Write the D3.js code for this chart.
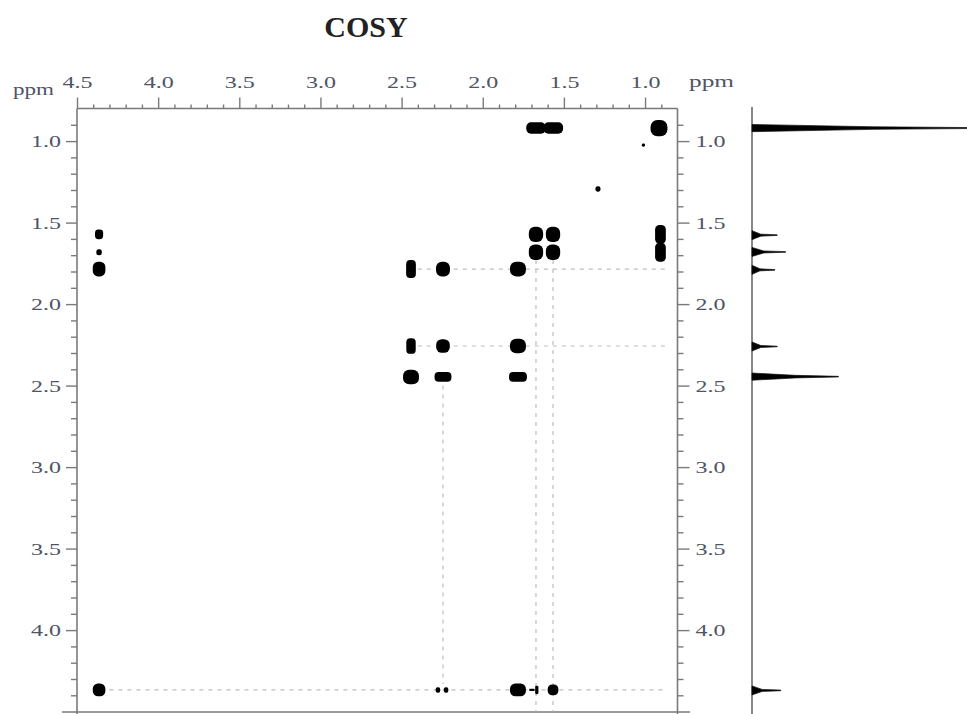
<!DOCTYPE html>
<html>
<head>
<meta charset="utf-8">
<script src="https://cdn.jsdelivr.net/npm/d3@7/dist/d3.min.js"></script>
<style>
  html, body { margin: 0; padding: 0; background: #fff; }
  svg { display: block; }
  text { font-family: "Liberation Serif", "Times New Roman", serif; }
</style>
</head>
<body>
<svg id="chart" width="967" height="714"></svg>
<script>
// ---------- data ----------
const title = "COSY";
const unitLabel = "ppm";
const f2TickLabels = [4.5, 4.0, 3.5, 3.0, 2.5, 2.0, 1.5, 1.0];
const f1TickLabels = [1.0, 1.5, 2.0, 2.5, 3.0, 3.5, 4.0];

// cross peaks (F2 = horizontal ppm, F1 = vertical ppm, extents in ppm)
const crossF2 = [1.672, 1.565, 0.914, 1.290, 1.010,
                 4.364, 1.672, 1.567, 0.905,
                 4.364, 1.672, 1.567, 0.905,
                 4.364, 2.442, 2.245, 1.783,
                 2.442, 2.245, 1.783,
                 2.442, 2.245, 1.783,
                 4.364, 2.276, 2.226, 1.783, 1.697, 1.667, 1.567];
const crossF1 = [0.920, 0.920, 0.920, 1.294, 1.024,
                 1.572, 1.572, 1.572, 1.572,
                 1.682, 1.682, 1.682, 1.682,
                 1.785, 1.785, 1.785, 1.785,
                 2.257, 2.257, 2.257,
                 2.447, 2.447, 2.447,
                 4.367, 4.367, 4.367, 4.367, 4.367, 4.367, 4.367];
const crossW2 = [0.120, 0.120, 0.104, 0.031, 0.020,
                 0.050, 0.088, 0.088, 0.066,
                 0.034, 0.088, 0.088, 0.066,
                 0.078, 0.060, 0.086, 0.098,
                 0.058, 0.084, 0.098,
                 0.098, 0.104, 0.110,
                 0.078, 0.028, 0.028, 0.098, 0.034, 0.020, 0.066];
const crossW1 = [0.070, 0.070, 0.100, 0.033, 0.020,
                 0.060, 0.094, 0.094, 0.116,
                 0.036, 0.094, 0.094, 0.116,
                 0.090, 0.110, 0.090, 0.090,
                 0.096, 0.084, 0.090,
                 0.090, 0.060, 0.060,
                 0.078, 0.034, 0.034, 0.078, 0.014, 0.052, 0.066];

// dashed correlation guide lines
const hGuideF1 = [1.785, 2.257, 4.367];
const hGuideFrom = [2.40, 2.40, 4.30];
const hGuideTo = [0.87, 0.87, 0.87];
const vGuideF2 = [2.245, 1.672, 1.567];
const vGuideFrom = [2.50, 1.73, 1.73];
const vGuideTo = [4.33, 4.50, 4.50];

// 1D projection spectrum peaks
const specPpm = [0.920, 1.577, 1.680, 1.790, 2.260, 2.445, 4.370];
const specInt = [100, 10.5, 14, 9.5, 10.5, 36, 12];

// ---------- layout ----------
const svg = d3.select("#chart");
const X0 = 77, X1 = 677.5, Y0 = 108.5, Y1 = 711.6;
const x = d3.scaleLinear().domain([4.5, 0.8]).range([X0, X1]);
const y = d3.scaleLinear().domain([0.8, 4.5]).range([Y0, Y1]);
const specBase = 752;
const sx = d3.scaleLinear().domain([0, 100]).range([specBase, specBase + 240]);

const axisColor = "#7a7a7a";
const labelColor = "#4f5566";

// title
svg.append("text").attr("x", 366).attr("y", 37).attr("text-anchor", "middle")
  .attr("font-size", 30).attr("font-weight", "bold").attr("fill", "#222").text(title);

// unit labels (glyphs are horizontally stretched in the original)
svg.append("text").attr("x", 13).attr("y", 95).attr("font-size", 17)
  .attr("textLength", 41).attr("lengthAdjust", "spacingAndGlyphs")
  .attr("fill", labelColor).text(unitLabel);
svg.append("text").attr("x", 689).attr("y", 87).attr("font-size", 17)
  .attr("textLength", 45).attr("lengthAdjust", "spacingAndGlyphs")
  .attr("fill", labelColor).text(unitLabel);

const fmt = d3.format(".1f");
const minorF2 = d3.range(9, 45).map(v => v / 10).filter(v => !f2TickLabels.some(t => Math.abs(t - v) < 1e-6));
const minorF1 = d3.range(9, 45).map(v => v / 10).filter(v => !f1TickLabels.some(t => Math.abs(t - v) < 1e-6));

function styleAxis(g) {
  g.select(".domain").remove();
  g.selectAll(".tick line").attr("stroke", axisColor).attr("stroke-width", 1.4);
  g.selectAll(".tick text").attr("fill", labelColor).attr("font-size", 17)
    .attr("font-family", "Liberation Serif, serif")
    .attr("textLength", 30).attr("lengthAdjust", "spacingAndGlyphs");
}

// top axis
svg.append("g").attr("transform", `translate(0,${Y0})`)
  .call(d3.axisTop(x).tickValues(minorF2).tickSize(4).tickFormat("")).call(styleAxis);
svg.append("g").attr("transform", `translate(0,${Y0})`)
  .call(d3.axisTop(x).tickValues(f2TickLabels).tickSize(11).tickPadding(10).tickFormat(fmt)).call(styleAxis);

// left axis
svg.append("g").attr("transform", `translate(${X0},0)`)
  .call(d3.axisLeft(y).tickValues(minorF1).tickSize(6).tickFormat("")).call(styleAxis);
svg.append("g").attr("transform", `translate(${X0},0)`)
  .call(d3.axisLeft(y).tickValues(f1TickLabels).tickSize(11).tickPadding(5).tickFormat(fmt)).call(styleAxis);

// right axis
svg.append("g").attr("transform", `translate(${X1},0)`)
  .call(d3.axisRight(y).tickValues(minorF1).tickSize(6).tickFormat("")).call(styleAxis);
svg.append("g").attr("transform", `translate(${X1},0)`)
  .call(d3.axisRight(y).tickValues(f1TickLabels).tickSize(12).tickPadding(6).tickFormat(fmt)).call(styleAxis);

// frame lines
const frame = svg.append("g").attr("stroke", axisColor).attr("stroke-width", 1.6).attr("fill", "none");
frame.append("line").attr("x1", X0).attr("x2", X1).attr("y1", Y0).attr("y2", Y0);
frame.append("line").attr("x1", X0).attr("x2", X0).attr("y1", Y0).attr("y2", 714);
frame.append("line").attr("x1", X1).attr("x2", X1).attr("y1", Y0).attr("y2", 714);
frame.append("line").attr("x1", 62).attr("x2", 690).attr("y1", 712).attr("y2", 712);

// guide lines
const guides = svg.append("g").attr("stroke", "#bdbdbd").attr("stroke-width", 1.2)
  .attr("stroke-dasharray", "4,5");
guides.selectAll("line.h").data(hGuideF1).join("line").attr("class", "h")
  .attr("x1", (d, i) => x(hGuideFrom[i])).attr("x2", (d, i) => x(hGuideTo[i]))
  .attr("y1", d => y(d)).attr("y2", d => y(d));
guides.selectAll("line.v").data(vGuideF2).join("line").attr("class", "v")
  .attr("x1", d => x(d)).attr("x2", d => x(d))
  .attr("y1", (d, i) => y(vGuideFrom[i])).attr("y2", (d, i) => y(vGuideTo[i]));

// soft blur to mimic contour rendering
const defs = svg.append("defs");
defs.append("filter").attr("id", "soft").attr("x", "-20%").attr("y", "-20%")
  .attr("width", "140%").attr("height", "140%")
  .append("feGaussianBlur").attr("stdDeviation", 0.6);

// cross peaks
const peaks = crossF2.map((f2, i) => ({ f2, f1: crossF1[i], w2: crossW2[i], w1: crossW1[i] }));
svg.append("g").attr("filter", "url(#soft)").selectAll("rect").data(peaks).join("rect")
  .attr("x", d => x(d.f2 + d.w2 / 2))
  .attr("y", d => y(d.f1 - d.w1 / 2))
  .attr("width", d => x(d.f2 - d.w2 / 2) - x(d.f2 + d.w2 / 2))
  .attr("height", d => y(d.f1 + d.w1 / 2) - y(d.f1 - d.w1 / 2))
  .attr("rx", d => Math.min(x(d.f2 - d.w2 / 2) - x(d.f2 + d.w2 / 2), y(d.f1 + d.w1 / 2) - y(d.f1 - d.w1 / 2)) / 2.4)
  .attr("fill", "#000");

// 1D spectrum baseline
svg.append("line").attr("x1", specBase).attr("x2", specBase).attr("y1", 107).attr("y2", 714)
  .attr("stroke", "#6a6a6a").attr("stroke-width", 1.6);

// 1D spectrum peaks (tapered spikes: thick core then thin tip)
const spec = specPpm.map((p, i) => ({ p, v: specInt[i] }));
svg.append("g").selectAll("path").data(spec).join("path")
  .attr("d", d => {
    const yc = y(d.p), tip = sx(d.v), len = tip - specBase;
    const hw = len > 60 ? 3.6 : 4.5;
    const core = len > 60 ? 0.5 : 0.35;
    const cw = len > 60 ? 1.3 : 1.0;
    return `M${specBase},${yc - hw} L${specBase + len * core},${yc - cw} L${tip},${yc - 0.3}` +
           ` L${tip},${yc + 0.3} L${specBase + len * core},${yc + cw} L${specBase},${yc + hw} Z`;
  })
  .attr("fill", "#000").attr("stroke", "#111").attr("stroke-width", 0.7);
</script>
</body>
</html>
